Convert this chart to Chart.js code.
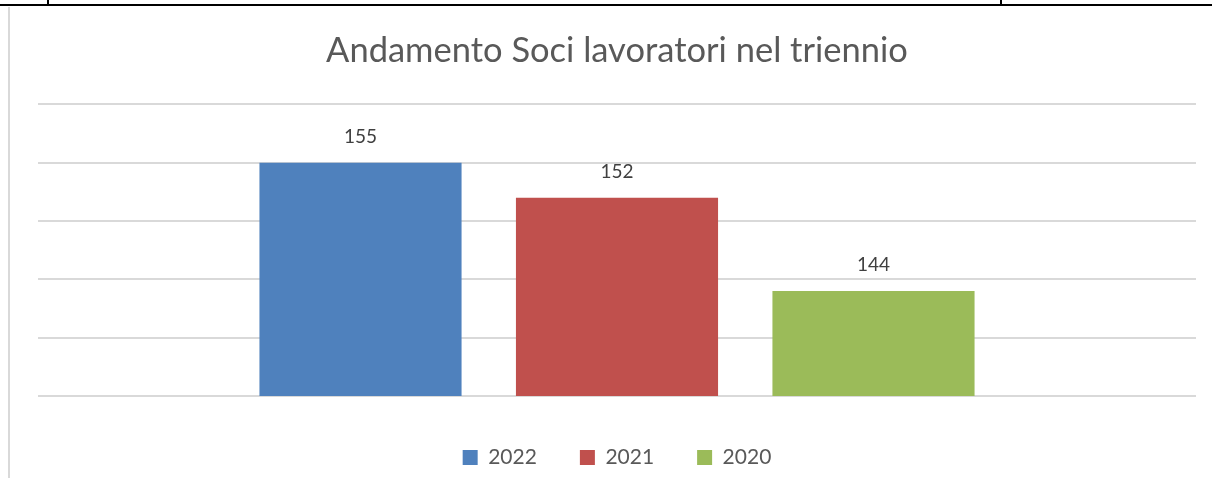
<!DOCTYPE html>
<html>
<head>
<meta charset="utf-8">
<script src="https://cdn.jsdelivr.net/npm/chart.js@4"></script>
<style>
  body { margin: 0; background: #fff; }
  #frame { position: relative; width: 1212px; height: 478px; overflow: hidden; }
  .line { position: absolute; background: #000; }
  #box { position: absolute; left: 8px; top: 7px; width: 1204px; height: 471px; border-left: 2px solid #d9d9d9; box-sizing: border-box; }
  #chartWrap { position: absolute; left: 0; top: 0; width: 1212px; height: 478px; }
</style>
</head>
<body>
<div id="frame">
  <div class="line" style="left:0;top:4px;width:1212px;height:2px"></div>
  <div class="line" style="left:47px;top:0;width:2px;height:5px"></div>
  <div class="line" style="left:1000px;top:0;width:2px;height:5px"></div>
  <div id="box"></div>
  <div id="chartWrap"><canvas id="sociChart" width="1212" height="478"></canvas></div>
</div>
<script>
const years = ["2022", "2021", "2020"];
const soci = [155, 152, 144];
const colors = ["#4F81BD", "#C0504D", "#9BBB59"];
const yTicks = [135, 140, 145, 150, 155, 160];

document.addEventListener("DOMContentLoaded", function () {
  const ctx = document.getElementById("sociChart").getContext("2d");

  // etichette valore sopra le barre
  const valueLabels = {
    id: "valueLabels",
    afterDatasetsDraw(chart) {
      const c = chart.ctx;
      c.save();
      c.font = "19px Lato";
      c.fillStyle = "#404040";
      c.textAlign = "center";
      c.textBaseline = "middle";
      chart.data.datasets.forEach((ds, i) => {
        const bar = chart.getDatasetMeta(i).data[0];
        c.fillText(ds.data[0], bar.x, bar.y - 26);
      });
      c.restore();
    },
  };

  new Chart(ctx, {
    type: "bar",
    data: {
      labels: [""],
      datasets: years.map((y, i) => ({
        label: y,
        data: [soci[i]],
        backgroundColor: colors[i],
        barPercentage: 0.788,
        categoryPercentage: 0.6645,
      })),
    },
    options: {
      responsive: false,
      animation: false,
      layout: { padding: { left: 38, right: 16, top: 30, bottom: 0 } },
      plugins: {
        title: {
          display: true,
          text: "Andamento Soci lavoratori nel triennio",
          color: "#595959",
          font: { family: "Lato", size: 34.5, weight: "normal" },
          padding: { top: 0, bottom: 33 },
        },
        legend: {
          position: "bottom",
          labels: {
            color: "#595959",
            font: { family: "Lato", size: 21 },
            boxWidth: 15,
            boxHeight: 15,
            padding: 43,
          },
        },
        tooltip: { enabled: false },
      },
      scales: {
        x: {
          grid: { display: false },
          border: { display: false },
          ticks: { display: false },
        },
        y: {
          min: yTicks[0],
          max: yTicks[yTicks.length - 1],
          afterBuildTicks: (axis) => { axis.ticks = yTicks.map((v) => ({ value: v })); },
          ticks: { display: false },
          grid: { color: "#d9d9d9", lineWidth: 2, drawTicks: false },
          border: { display: false },
        },
      },
    },
    plugins: [valueLabels],
  });
});
</script>
</body>
</html>
